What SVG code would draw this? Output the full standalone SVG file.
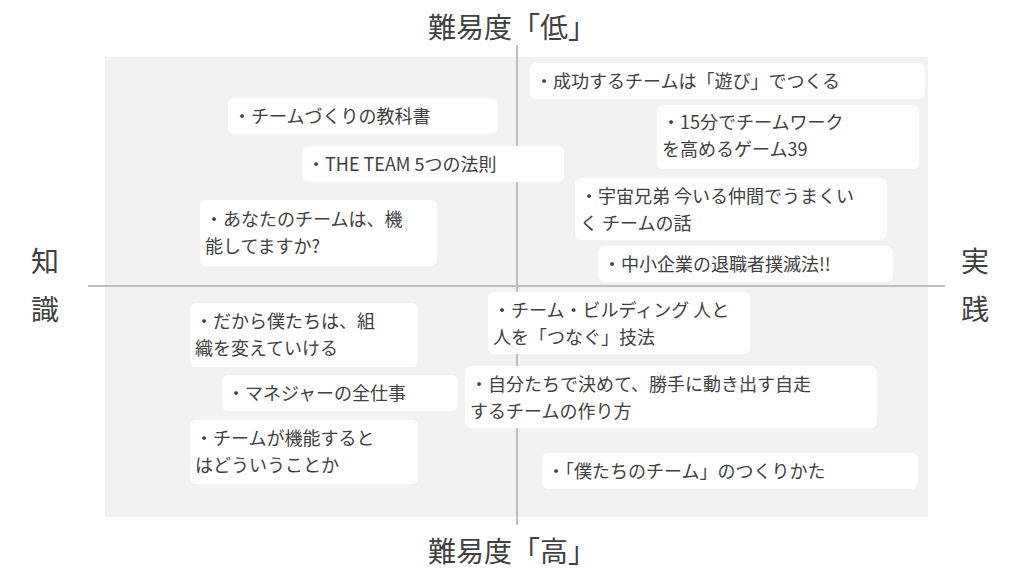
<svg xmlns="http://www.w3.org/2000/svg" width="1024" height="576" viewBox="0 0 1024 576">
<style>
.b{fill:#fff;stroke:none}
.t{font-family:"Noto Sans CJK JP","Noto Sans",sans-serif;font-size:18px;fill:#404040}
.h{font-family:"Noto Sans CJK JP","Noto Sans",sans-serif;font-size:28px;fill:#404040}
.ax{stroke:#bfbfbf;stroke-width:2}
</style>
<rect x="0" y="0" width="1024" height="576" fill="#fff"/>
<rect x="105" y="57" width="823" height="460" fill="#f2f2f2"/>
<g id="connectors">
<line class="ax" x1="517" y1="45" x2="517" y2="525"/>
<line class="ax" x1="88" y1="286" x2="945" y2="286"/>
</g>
<g id="labels">
<text class="h" x="512" y="38" text-anchor="middle">難易度「低」</text>
<text class="h" x="512" y="562" text-anchor="middle">難易度「高」</text>
<text class="h" x="45" y="272" text-anchor="middle">知</text>
<text class="h" x="45" y="320" text-anchor="middle">識</text>
<text class="h" x="975" y="272" text-anchor="middle">実</text>
<text class="h" x="975" y="320" text-anchor="middle">践</text>
</g>
<g id="n1"><rect class="b" x="530" y="63" width="395" height="36" rx="6"/><text class="t" x="535" y="88">・成功するチームは「遊び」でつくる</text></g>
<g id="n2"><rect class="b" x="228" y="98" width="270" height="36" rx="6"/><text class="t" x="233" y="123">・チームづくりの教科書</text></g>
<g id="n3"><rect class="b" x="657" y="105" width="262" height="64" rx="6"/><text class="t" x="662" y="129">・15分でチームワーク</text><text class="t" x="662" y="156">を高めるゲーム39</text></g>
<g id="n4"><rect class="b" x="302" y="146" width="262" height="36" rx="6"/><text class="t" x="307" y="171">・THE TEAM 5つの法則</text></g>
<g id="n5"><rect class="b" x="575" y="178" width="312" height="62" rx="6"/><text class="t" x="580" y="203">・宇宙兄弟 今いる仲間でうまくい</text><text class="t" x="580" y="230">く チームの話</text></g>
<g id="n6"><rect class="b" x="200" y="200" width="237" height="66" rx="6"/><text class="t" x="205" y="226">・あなたのチームは、機</text><text class="t" x="205" y="253">能してますか?</text></g>
<g id="n7"><rect class="b" x="598" y="246" width="295" height="36" rx="6"/><text class="t" x="603" y="271">・中小企業の退職者撲滅法!!</text></g>
<g id="n8"><rect class="b" x="190" y="303" width="228" height="64" rx="6"/><text class="t" x="195" y="328">・だから僕たちは、組</text><text class="t" x="195" y="355">織を変えていける</text></g>
<g id="n9"><rect class="b" x="488" y="292" width="262" height="62" rx="6"/><text class="t" x="493" y="317">・チーム・ビルディング 人と</text><text class="t" x="493" y="344">人を「つなぐ」技法</text></g>
<g id="n10"><rect class="b" x="222" y="375" width="236" height="36" rx="6"/><text class="t" x="227" y="400">・マネジャーの全仕事</text></g>
<g id="n11"><rect class="b" x="465" y="366" width="412" height="62" rx="6"/><text class="t" x="470" y="391">・自分たちで決めて、勝手に動き出す自走</text><text class="t" x="470" y="418">するチームの作り方</text></g>
<g id="n12"><rect class="b" x="190" y="420" width="228" height="64" rx="6"/><text class="t" x="195" y="445">・チームが機能すると</text><text class="t" x="195" y="472">はどういうことか</text></g>
<g id="n13"><rect class="b" x="542" y="453" width="376" height="36" rx="6"/><text class="t" x="547" y="478">・「僕たちのチーム」のつくりかた</text></g>
</svg>
